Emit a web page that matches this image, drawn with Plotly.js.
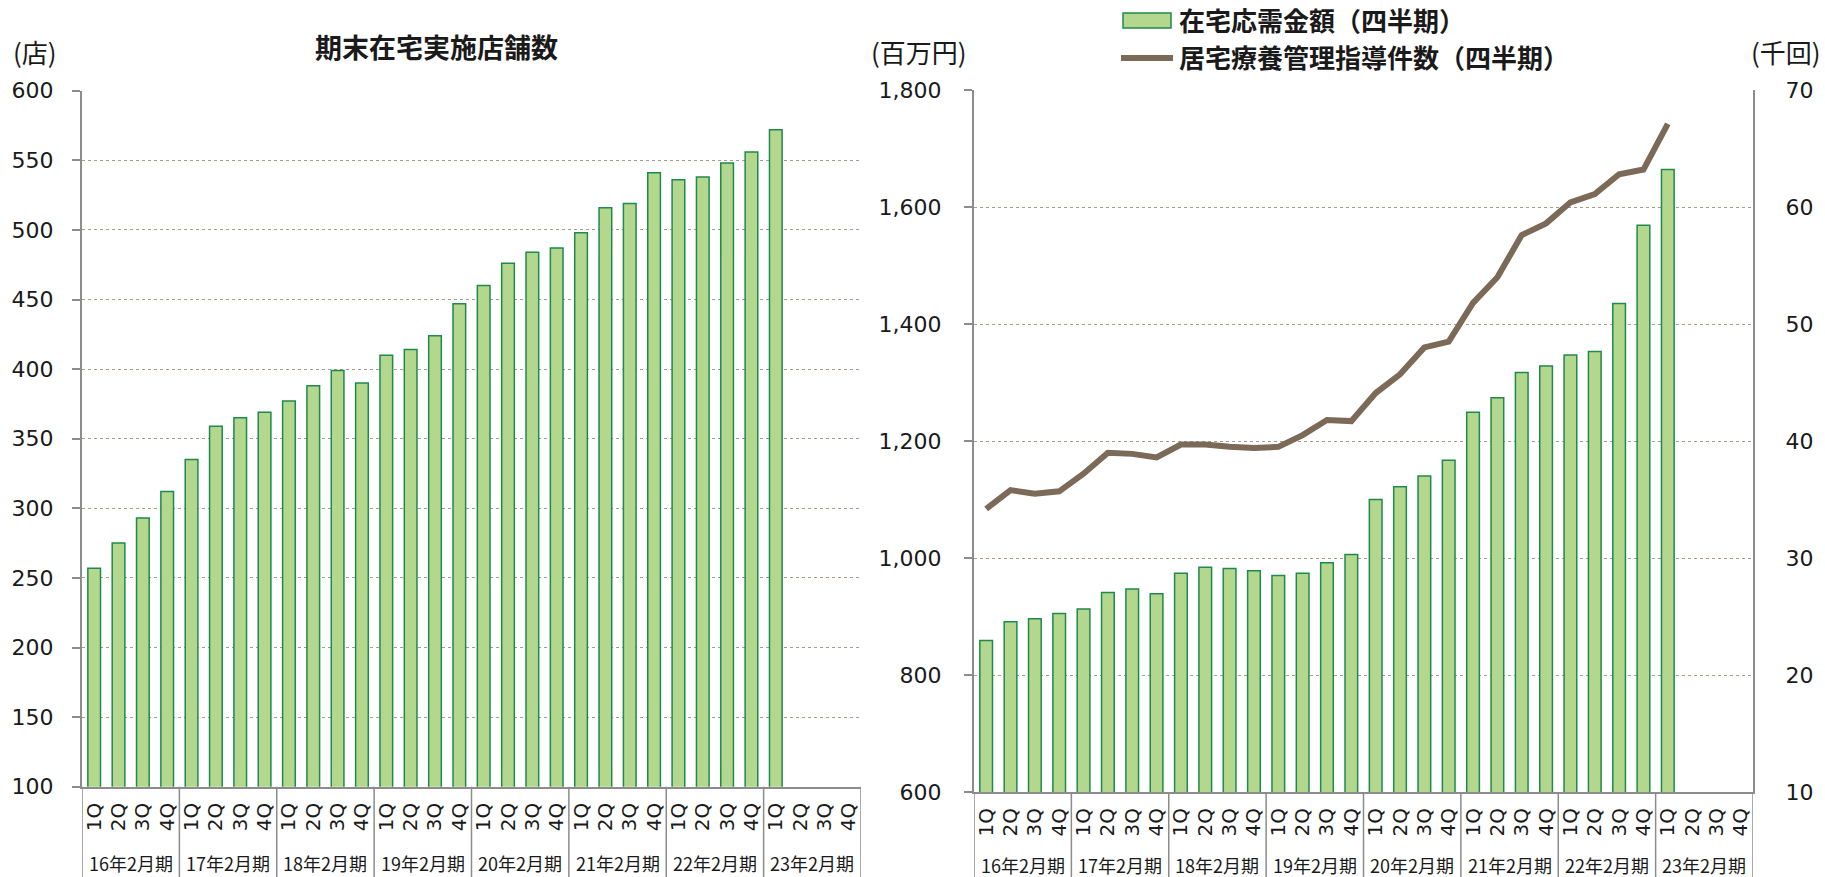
<!DOCTYPE html>
<html><head><meta charset="utf-8">
<script src="https://cdn.plot.ly/plotly-3.0.1.min.js"></script>
<style>html,body{margin:0;padding:0;background:#fff}#chart{width:1825px;height:877px}</style>
</head><body><div id="chart"></div>
<script>
// ---- data ----
const fiscalYears = ['16年2月期','17年2月期','18年2月期','19年2月期','20年2月期','21年2月期','22年2月期','23年2月期'];
const quarters = ['1Q','2Q','3Q','4Q'];
const storeCounts = [257,275,293,312, 335,359,365,369, 377,388,399,390, 410,414,424,447,
                     460,476,484,487, 498,516,519,541, 536,538,548,556, 572,null,null,null];
const homeCareSales = [859,891,896,905, 913,941,947,939, 974,984,982,978, 970,974,992,1006,
                       1100,1122,1140,1167, 1249,1274,1317,1328, 1347,1353,1435,1569, 1664,null,null,null];
const guidanceCounts = [34.2,35.8,35.5,35.7, 37.2,39.0,38.9,38.6, 39.7,39.7,39.5,39.4, 39.5,40.5,41.8,41.7,
                        44.1,45.7,48.0,48.5, 51.8,54.0,57.6,58.6, 60.4,61.1,62.8,63.2, 67.1,null,null,null];
const storeTicks = [100,150,200,250,300,350,400,450,500,550,600];
const salesTicks = [600,800,1000,1200,1400,1600,1800];
const countTicks = [10,20,30,40,50,60,70];
const leftTitle = '期末在宅実施店舗数';
const seriesNames = ['在宅応需金額（四半期）','居宅療養管理指導件数（四半期）'];
const unitLabels = ['(店)','(百万円)','(千回)'];

// ---- build ----
const W = 1825, H = 877;
const xIdx = [], qText = [];
fiscalYears.forEach((fy, g) => quarters.forEach((q, i) => { xIdx.push(g * quarters.length + i); qText.push(q); }));
const nCat = xIdx.length;

const px = v => v / W, py = v => 1 - v / H;
const L = {x0: 82, x1: 861, y0: 90.7, y1: 786.7};
const R = {x0: 974, x1: 1753, y0: 90, y1: 792};

const barFill = '#b3d78c', barLine = '#1e8a4e', lineCol = '#7b6a57';
const axisCol = '#8c8c8c', gridCol = '#a89a8c', txt = '#1a1a1a';
const numFont = {family: 'DejaVu Sans, Verdana, sans-serif', size: 22, color: txt};
const cjk = 'Noto Sans CJK JP, sans-serif';

const traces = [
  {type: 'bar', x: xIdx, y: storeCounts, xaxis: 'x', yaxis: 'y', name: leftTitle,
   marker: {color: barFill, line: {color: barLine, width: 1.5}}, showlegend: false, hoverinfo: 'y'},
  {type: 'bar', x: xIdx, y: homeCareSales, xaxis: 'x2', yaxis: 'y2', name: seriesNames[0],
   marker: {color: barFill, line: {color: barLine, width: 1.5}}, showlegend: false},
  {type: 'scatter', mode: 'lines', x: xIdx, y: guidanceCounts, xaxis: 'x2', yaxis: 'y3', name: seriesNames[1],
   line: {color: lineCol, width: 6}, showlegend: false, connectgaps: false}
];

const xCommon = {
  type: 'linear', range: [-0.5, nCat - 0.5], tickmode: 'array', tickvals: xIdx, ticktext: qText,
  tickangle: -90, tickfont: {family: 'DejaVu Sans, sans-serif', size: 20, color: txt},
  showline: true, linecolor: axisCol, linewidth: 2, ticks: '', showgrid: false, zeroline: false,
  fixedrange: true, ticklabelstandoff: 6
};
const yCommon = {
  tickmode: 'array', showline: true, linecolor: axisCol, linewidth: 2, ticks: 'outside', ticklen: 8,
  tickwidth: 2, tickcolor: axisCol, showgrid: true, gridcolor: gridCol, gridwidth: 1, griddash: 'dot',
  zeroline: false, tickfont: numFont, ticklabelstandoff: 14, fixedrange: true
};

const shapes = [], annotations = [];
// group separators + fiscal-year labels
[['x', L], ['x2', R]].forEach(([xr, box]) => {
  for (let g = 0; g <= fiscalYears.length; g++) {
    shapes.push({type: 'line', xref: xr, yref: 'paper', x0: g * 4 - 0.5, x1: g * 4 - 0.5,
                 y0: py(box.y1), y1: 0, line: {color: axisCol, width: 1.5}});
  }
  fiscalYears.forEach((fy, g) => annotations.push({
    xref: xr, yref: 'paper', x: g * 4 + 1.5, y: py(box === L ? 863 : 865), text: fy, showarrow: false,
    font: {family: cjk, size: 18, color: txt}, xanchor: 'center', yanchor: 'middle', borderpad: 0
  }));
});
// titles / units
annotations.push({xref: 'paper', yref: 'paper', x: px(436), y: py(46), text: '<b>' + leftTitle + '</b>',
  showarrow: false, font: {family: cjk, size: 27, color: txt}, xanchor: 'center', yanchor: 'middle'});
annotations.push({xref: 'paper', yref: 'paper', x: px(35), y: py(51), text: unitLabels[0],
  showarrow: false, font: {family: cjk, size: 26, color: txt}, xanchor: 'center', yanchor: 'middle'});
annotations.push({xref: 'paper', yref: 'paper', x: px(919), y: py(51), text: unitLabels[1],
  showarrow: false, font: {family: cjk, size: 26, color: txt}, xanchor: 'center', yanchor: 'middle'});
annotations.push({xref: 'paper', yref: 'paper', x: px(1786), y: py(51), text: unitLabels[2],
  showarrow: false, font: {family: cjk, size: 26, color: txt}, xanchor: 'center', yanchor: 'middle'});
// legend (drawn)
shapes.push({type: 'rect', xref: 'paper', yref: 'paper', x0: px(1123), x1: px(1171), y0: py(28), y1: py(13),
  fillcolor: barFill, line: {color: barLine, width: 1.5}});
shapes.push({type: 'line', xref: 'paper', yref: 'paper', x0: px(1121), x1: px(1173), y0: py(58), y1: py(58),
  line: {color: lineCol, width: 6}});
annotations.push({xref: 'paper', yref: 'paper', x: px(1177), y: py(20), text: '<b>' + seriesNames[0] + '</b>',
  showarrow: false, font: {family: cjk, size: 26, color: txt}, xanchor: 'left', yanchor: 'middle'});
annotations.push({xref: 'paper', yref: 'paper', x: px(1177), y: py(57), text: '<b>' + seriesNames[1] + '</b>',
  showarrow: false, font: {family: cjk, size: 26, color: txt}, xanchor: 'left', yanchor: 'middle'});

const layout = {
  width: W, height: H, margin: {l: 0, r: 0, t: 0, b: 0}, paper_bgcolor: '#fff', plot_bgcolor: '#fff',
  showlegend: false, bargap: 0.48,
  xaxis: Object.assign({}, xCommon, {domain: [px(L.x0), px(L.x1)], anchor: 'y'}),
  yaxis: Object.assign({}, yCommon, {domain: [py(L.y1), py(L.y0)], range: [100, 600], tickvals: storeTicks, anchor: 'x'}),
  xaxis2: Object.assign({}, xCommon, {domain: [px(R.x0), px(R.x1)], anchor: 'y2'}),
  yaxis2: Object.assign({}, yCommon, {domain: [py(R.y1), py(R.y0)], range: [600, 1800], tickvals: salesTicks,
    tickformat: ',d', anchor: 'x2', ticklabelstandoff: 18}),
  yaxis3: Object.assign({}, yCommon, {range: [10, 70], tickvals: countTicks, overlaying: 'y2', side: 'right',
    anchor: 'x2', showgrid: false, ticks: '', ticklabelstandoff: 26}),
  shapes: shapes, annotations: annotations
};

Plotly.newPlot('chart', traces, layout, {staticPlot: true, displayModeBar: false});
</script>
</body></html>
